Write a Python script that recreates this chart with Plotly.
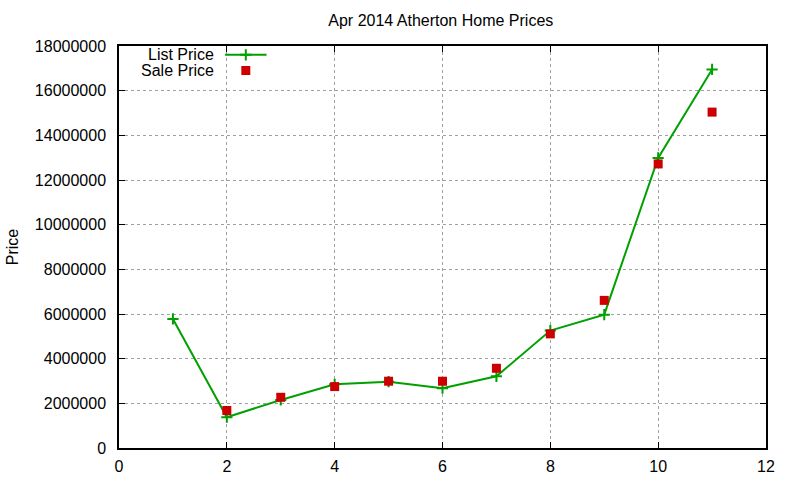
import plotly.graph_objects as go

x_vals = [1, 2, 3, 4, 5, 6, 7, 8, 9, 10, 11]
list_price = [5780000, 1380000, 2150000, 2850000, 2970000, 2680000, 3210000, 5260000, 5970000, 12990000, 16950000]
sale_x = [2, 3, 4, 5, 6, 7, 8, 9, 10, 11]
sale_price = [1680000, 2270000, 2750000, 2990000, 2990000, 3570000, 5110000, 6610000, 12720000, 15040000]
x_ticks = [0, 2, 4, 6, 8, 10, 12]
y_ticks = [0, 2000000, 4000000, 6000000, 8000000, 10000000, 12000000, 14000000, 16000000, 18000000]

GREEN = "#00a000"
RED = "#cc0000"
FONT = "Liberation Sans, Arial, sans-serif"
FS = 16

fig = go.Figure()
fig.add_trace(go.Scatter(
    x=x_vals, y=list_price, mode="lines+markers", name="List Price",
    line=dict(color=GREEN, width=2),
    marker=dict(symbol="cross-thin-open", size=8, color=GREEN, line=dict(color=GREEN, width=2)),
    showlegend=False))
fig.add_trace(go.Scatter(
    x=sale_x, y=sale_price, mode="markers", name="Sale Price",
    marker=dict(symbol="square", size=9, color=RED),
    showlegend=False))

# Legend samples on an overlay axis spanning [0,1]
fig.add_trace(go.Scatter(
    x=[0.164, 0.228], y=[0.978, 0.978], mode="lines", xaxis="x2", yaxis="y2",
    line=dict(color=GREEN, width=2), showlegend=False, hoverinfo="skip"))
fig.add_trace(go.Scatter(
    x=[0.196], y=[0.978], mode="markers", xaxis="x2", yaxis="y2",
    marker=dict(symbol="cross-thin-open", size=8, color=GREEN, line=dict(color=GREEN, width=2)),
    showlegend=False, hoverinfo="skip"))
fig.add_trace(go.Scatter(
    x=[0.196], y=[0.939], mode="markers", xaxis="x2", yaxis="y2",
    marker=dict(symbol="square", size=9, color=RED),
    showlegend=False, hoverinfo="skip"))

axis_common = dict(
    showline=True, linecolor="black", linewidth=1.5, mirror="allticks",
    ticks="inside", ticklen=6, tickcolor="black", tickwidth=1,
    showgrid=True, gridcolor="#a0a0a0", griddash="dot", gridwidth=1,
    zeroline=False, tickfont=dict(family=FONT, size=FS, color="black"),
    automargin=False,
)

fig.update_layout(
    width=800, height=480,
    margin=dict(l=119, r=34, t=46, b=32),
    paper_bgcolor="white", plot_bgcolor="white",
    title=dict(text="Apr 2014 Atherton Home Prices", x=0.551, xanchor="center",
               y=0.958, yanchor="middle",
               font=dict(family=FONT, size=FS, color="black")),
    xaxis=dict(range=[0, 12], tickvals=x_ticks, ticklabelstandoff=3, **axis_common),
    yaxis=dict(range=[0, 18000000], tickvals=y_ticks, tickformat="d",
               ticklabelstandoff=8,
               title=dict(text="Price", font=dict(family=FONT, size=FS, color="black"), standoff=12),
               **axis_common),
    xaxis2=dict(overlaying="x", range=[0, 1], visible=False),
    yaxis2=dict(overlaying="y", range=[0, 1], visible=False),
    annotations=[
        dict(text="List Price", xref="paper", yref="paper", x=0.15, y=0.978,
             xanchor="right", yanchor="middle", showarrow=False,
             font=dict(family=FONT, size=FS, color="black")),
        dict(text="Sale Price", xref="paper", yref="paper", x=0.15, y=0.939,
             xanchor="right", yanchor="middle", showarrow=False,
             font=dict(family=FONT, size=FS, color="black")),
    ],
)

fig.write_html("out.html", config={"displayModeBar": False},
               post_script="document.body.style.margin='0';")
